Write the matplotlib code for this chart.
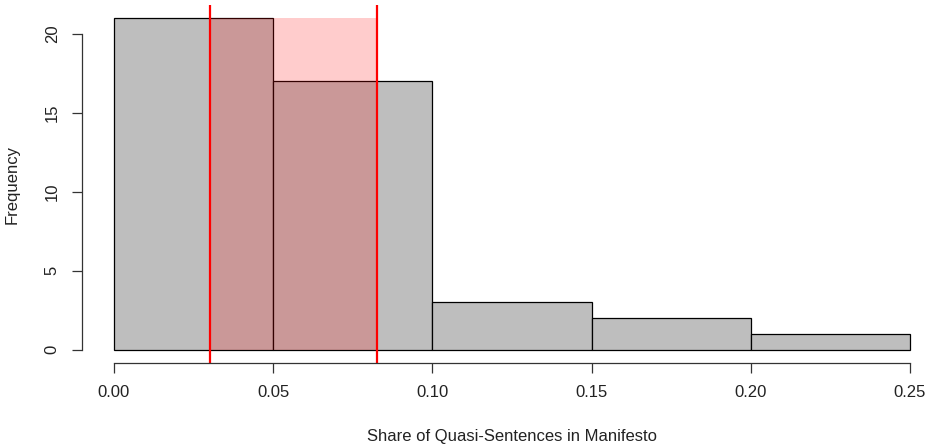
import matplotlib.pyplot as plt

# histogram counts per 0.05-wide bin
bin_left = [0.00, 0.05, 0.10, 0.15, 0.20]
counts = [21, 17, 3, 2, 1]
bin_width = 0.05

# interval marked in red
lower = 0.03
upper = 0.0825

plt.rcParams['font.family'] = ['Liberation Sans', 'DejaVu Sans']

fig = plt.figure(figsize=(9.26, 4.46), dpi=100)
W, H = 926, 446
left, right, top, bottom = 82, 938, 5, 363
ax = fig.add_axes([left / W, 1 - bottom / H, (right - left) / W, (bottom - top) / H])

ax.bar(bin_left, counts, width=bin_width, align='edge', color='#bebebe',
       edgecolor='black', linewidth=0.9)
ax.fill_between([lower, upper], 0, max(counts), color='red', alpha=0.2, linewidth=0)
for x in (lower, upper):
    ax.axvline(x, color='red', linewidth=1.6)

ax.set_xlim(-0.01005, 0.2588)
ax.set_ylim(-0.84, 21.84)

for s in ('top', 'right'):
    ax.spines[s].set_visible(False)
ax.spines['left'].set_bounds(0, 20)
ax.spines['bottom'].set_bounds(0, 0.25)
for s in ('left', 'bottom'):
    ax.spines[s].set_color('#333333')
    ax.spines[s].set_linewidth(0.9)

ax.set_xticks([0.00, 0.05, 0.10, 0.15, 0.20, 0.25])
ax.set_xticklabels(['0.00', '0.05', '0.10', '0.15', '0.20', '0.25'])
ax.set_yticks([0, 5, 10, 15, 20])
ax.set_yticklabels(['0', '5', '10', '15', '20'], rotation=90, va='center')
ax.tick_params(length=7, width=0.9, color='#333333', pad=9, labelsize=12,
               labelcolor='#222222')

fig.text(512 / W, 1 - 437 / H, 'Share of Quasi-Sentences in Manifesto',
         ha='center', va='center', fontsize=12, color='#222222')
fig.text(12 / W, 1 - 184 / H, 'Frequency', rotation=90,
         ha='center', va='center', fontsize=12, color='#222222')

fig.savefig('out.png', dpi=100)
